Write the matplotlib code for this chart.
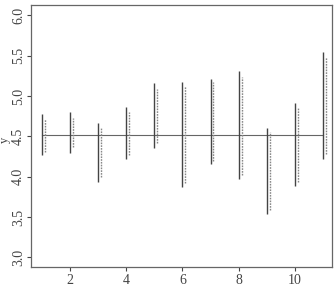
import matplotlib.pyplot as plt
import numpy as np

plt.rcParams['font.family'] = ['Liberation Serif', 'DejaVu Serif']

x = np.arange(1, 12)
solid_top = [4.78, 4.80, 4.67, 4.87, 5.16, 5.18, 5.21, 5.31, 4.61, 4.91, 5.55]
solid_bot = [4.27, 4.30, 3.93, 4.22, 4.35, 3.87, 4.16, 3.97, 3.54, 3.89, 4.22]
dot_top = [4.71, 4.73, 4.60, 4.80, 5.09, 5.13, 5.18, 5.24, 4.56, 4.87, 5.49]
dot_bot = [4.31, 4.37, 4.00, 4.27, 4.42, 3.92, 4.20, 4.02, 3.59, 3.93, 4.28]
mean_y = 4.52
offset = 0.1

fig = plt.figure(figsize=(3.35, 2.92), dpi=100)
ax = fig.add_axes([31 / 335, (292 - 267) / 292, 301 / 335, 262 / 292])

# horizontal reference line
ax.plot([x[0], x[-1]], [mean_y, mean_y], color='#666666', linewidth=0.8)

# solid and dotted intervals
ax.vlines(x, solid_bot, solid_top, color='#444444', linewidth=1.0)
ax.vlines(x + offset, dot_bot, dot_top, color='#888888', linewidth=1.0,
          linestyles=(0, (1.2, 0.8)))

ax.set_xlim(0.62, 11.31)
ax.set_ylim(2.88, 6.13)
ax.set_xticks([2, 4, 6, 8, 10])
ax.set_yticks([3.0, 3.5, 4.0, 4.5, 5.0, 5.5, 6.0])
ax.set_yticklabels([f"{v:.1f}" for v in [3.0, 3.5, 4.0, 4.5, 5.0, 5.5, 6.0]],
                   rotation=90, va='center')
ax.tick_params(labelsize=10, colors='#444444', length=3, width=0.8, pad=2)
ax.tick_params(axis='y', pad=1.2)
for s in ax.spines.values():
    s.set_color('#666666')
    s.set_linewidth(0.9)

fig.text(5 / 335, 1 - 140 / 292, 'y', rotation=90, ha='center', va='center',
         fontsize=9, color='#444444')

plt.savefig('out.png', dpi=100)
